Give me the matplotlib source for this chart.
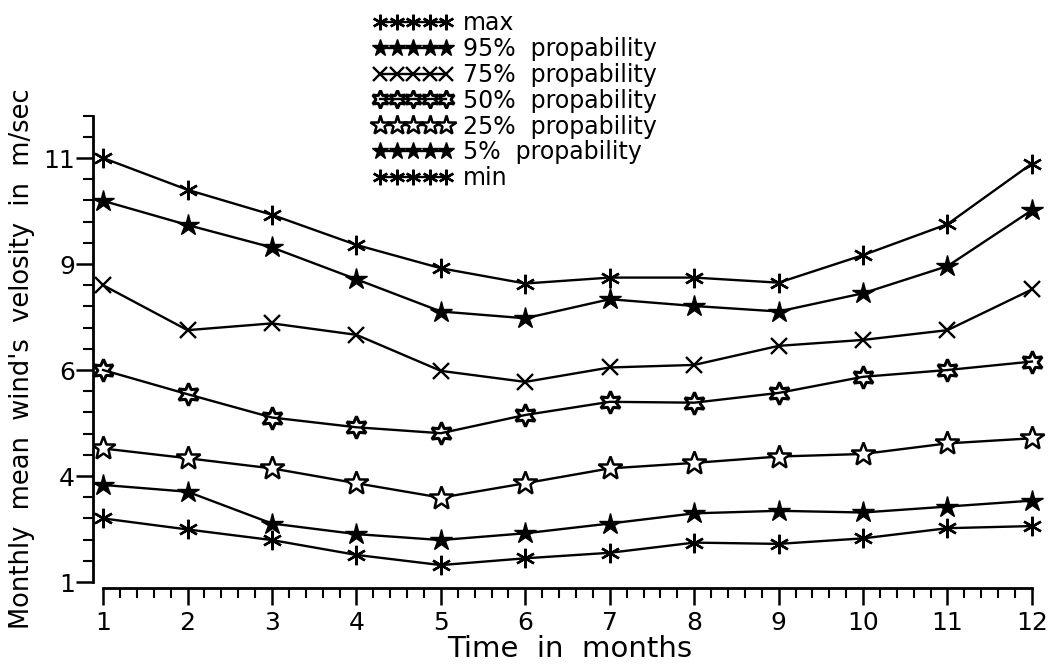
import numpy as np
import matplotlib
matplotlib.use("Agg")
import matplotlib.pyplot as plt
from matplotlib.ticker import FixedLocator, MultipleLocator

plt.rcParams['font.family'] = ['DejaVu Sans']

# monthly mean wind velocity, m/sec
months = list(range(1, 13))
max_v = [11.0, 10.25, 9.66, 8.95, 8.40, 8.04, 8.18, 8.18, 8.06, 8.71, 9.44, 10.87]
p95 = [9.99, 9.42, 8.89, 8.14, 7.38, 7.22, 7.67, 7.51, 7.38, 7.81, 8.45, 9.77]
p75 = [8.00, 6.94, 7.10, 6.83, 5.98, 5.72, 6.06, 6.12, 6.57, 6.71, 6.94, 7.90]
p50 = [6.00, 5.43, 4.88, 4.65, 4.51, 4.94, 5.25, 5.23, 5.46, 5.84, 6.00, 6.20]
p25 = [4.15, 3.92, 3.68, 3.33, 2.99, 3.33, 3.68, 3.81, 3.96, 4.02, 4.27, 4.39]
p5 = [3.29, 3.13, 2.38, 2.13, 1.99, 2.15, 2.38, 2.62, 2.68, 2.64, 2.78, 2.92]
min_v = [2.50, 2.24, 1.99, 1.64, 1.40, 1.56, 1.69, 1.93, 1.90, 2.03, 2.27, 2.32]

labels = ['max', '95%  propability', '75%  propability', '50%  propability',
          '25%  propability', '5%  propability', 'min']

y_ticks = [1, 3.5, 6, 8.5, 11]
y_ticklabels = ['1', '4', '6', '9', '11']

fig = plt.figure(figsize=(10.59, 6.72), dpi=100)
ax = fig.add_axes([0.0878, 0.1244, 0.8986, 0.7162])

lw = 1.7
asterisk = (6, 2, 0)
hexagram = (6, 1, 0)
h = []
h += ax.plot(months, max_v, color='k', lw=lw, marker=asterisk, ms=14, mew=1.7)
h += ax.plot(months, p95, color='k', lw=lw, marker='*', ms=16, mfc='k', mec='k')
h += ax.plot(months, p75, color='k', lw=lw, marker='x', ms=12, mew=1.7)
h += ax.plot(months, p50, color='k', lw=lw, marker=hexagram, ms=16, mfc='none', mec='k', mew=2.2)
h += ax.plot(months, p25, color='k', lw=lw, marker='*', ms=18, mfc='white', mec='k', mew=1.8)
h += ax.plot(months, p5, color='k', lw=lw, marker='*', ms=16, mfc='k', mec='k')
h += ax.plot(months, min_v, color='k', lw=lw, marker=asterisk, ms=14, mew=1.7)

ax.set_xlim(0.88, 12.15)
ax.set_ylim(0.85, 12.2)

for s in ['top', 'right']:
    ax.spines[s].set_visible(False)
ax.spines['left'].set_bounds(1, 12)
ax.spines['bottom'].set_bounds(1, 12)
ax.spines['left'].set_linewidth(2)
ax.spines['bottom'].set_linewidth(2)

ax.xaxis.set_major_locator(FixedLocator(months))
ax.xaxis.set_minor_locator(MultipleLocator(0.2))
ax.set_xticklabels([str(m) for m in months])
ax.yaxis.set_major_locator(FixedLocator(y_ticks))
ax.yaxis.set_minor_locator(FixedLocator(np.arange(1, 12.01, 0.5)))
ax.set_yticklabels(y_ticklabels)

ax.tick_params(which='major', length=12, width=1.8, labelsize=18)
ax.tick_params(which='minor', length=7, width=1.5)
ax.tick_params(axis='x', which='major', pad=4)
ax.tick_params(axis='y', which='major', pad=1)

fig.text(22 / 1059, 0.466, "Monthly  mean  wind's  velosity  in  m/sec",
         rotation=90, ha='center', va='center', fontsize=18.5)
fig.text(0.538, 0.022, 'Time  in  months', ha='center', va='baseline', fontsize=21)

fig.legend(h, labels, loc='upper left', bbox_to_anchor=(373 / 1059, 1 - 11 / 672),
           numpoints=5, handlelength=3.4, handletextpad=0.4, labelspacing=0.08,
           frameon=False, borderpad=0, borderaxespad=0, fontsize=17, markerscale=0.8)

fig.savefig('out.png', dpi=100)
